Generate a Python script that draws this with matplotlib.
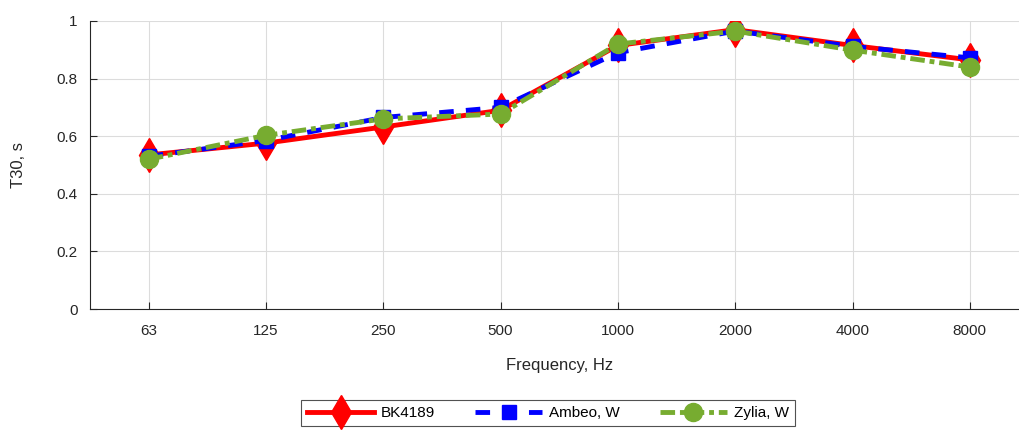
import matplotlib.pyplot as plt
import numpy as np

plt.rcParams['font.family'] = ['Liberation Sans', 'DejaVu Sans']

freqs = ['63', '125', '250', '500', '1000', '2000', '4000', '8000']
bk4189 = [0.535, 0.576, 0.632, 0.69, 0.915, 0.97, 0.915, 0.865]
ambeo_w = [0.53, 0.585, 0.665, 0.70, 0.89, 0.965, 0.912, 0.872]
zylia_w = [0.52, 0.603, 0.66, 0.677, 0.92, 0.965, 0.899, 0.84]

x = np.arange(len(freqs))

fig = plt.figure(figsize=(10.19, 4.32), dpi=100)
ax = fig.add_axes([0.0883, 0.2847, 0.921, 0.6667])

ax.plot(x, bk4189, color='#ff0000', lw=3.5, marker='d', ms=17, label='BK4189')
ax.plot(x, ambeo_w, color='#0000ff', lw=3.5, ls=(0, (3, 2.5)), marker='s', ms=10,
        label='Ambeo, W')
ax.plot(x, zylia_w, color='#77ac30', lw=3.5, ls=(0, (3, 1, 1, 1)), marker='o', ms=13,
        label='Zylia, W')

ax.set_xlim(-0.5, 7.5)
ax.set_ylim(0, 1)
ax.set_xticks(x)
ax.set_xticklabels(freqs)
ax.set_yticks([0, 0.2, 0.4, 0.6, 0.8, 1])
ax.set_yticklabels(['0', '0.2', '0.4', '0.6', '0.8', '1'])
ax.grid(True, color='#dcdcdc', lw=0.8)
ax.set_axisbelow(True)
for s in ['top', 'right']:
    ax.spines[s].set_visible(False)
for s in ['left', 'bottom']:
    ax.spines[s].set_color('#262626')
ax.tick_params(direction='in', length=5, colors='#262626', labelsize=11)
ax.tick_params(axis='x', pad=11)
ax.tick_params(axis='y', pad=9)

ax.set_xlabel('Frequency, Hz', fontsize=12, color='#262626', labelpad=14)
ax.set_ylabel('T30, s', fontsize=12, color='#262626', labelpad=22)

leg = fig.legend(loc='upper left', bbox_to_anchor=(301 / 1019, 1 - 400 / 432), ncol=3,
                 fontsize=11, handlelength=4.4, columnspacing=2.6, handletextpad=0.45,
                 frameon=True, fancybox=False, borderpad=0.4, borderaxespad=0)
leg.get_frame().set_edgecolor('#262626')
leg.get_frame().set_linewidth(0.8)

fig.savefig('out.png', dpi=100)
